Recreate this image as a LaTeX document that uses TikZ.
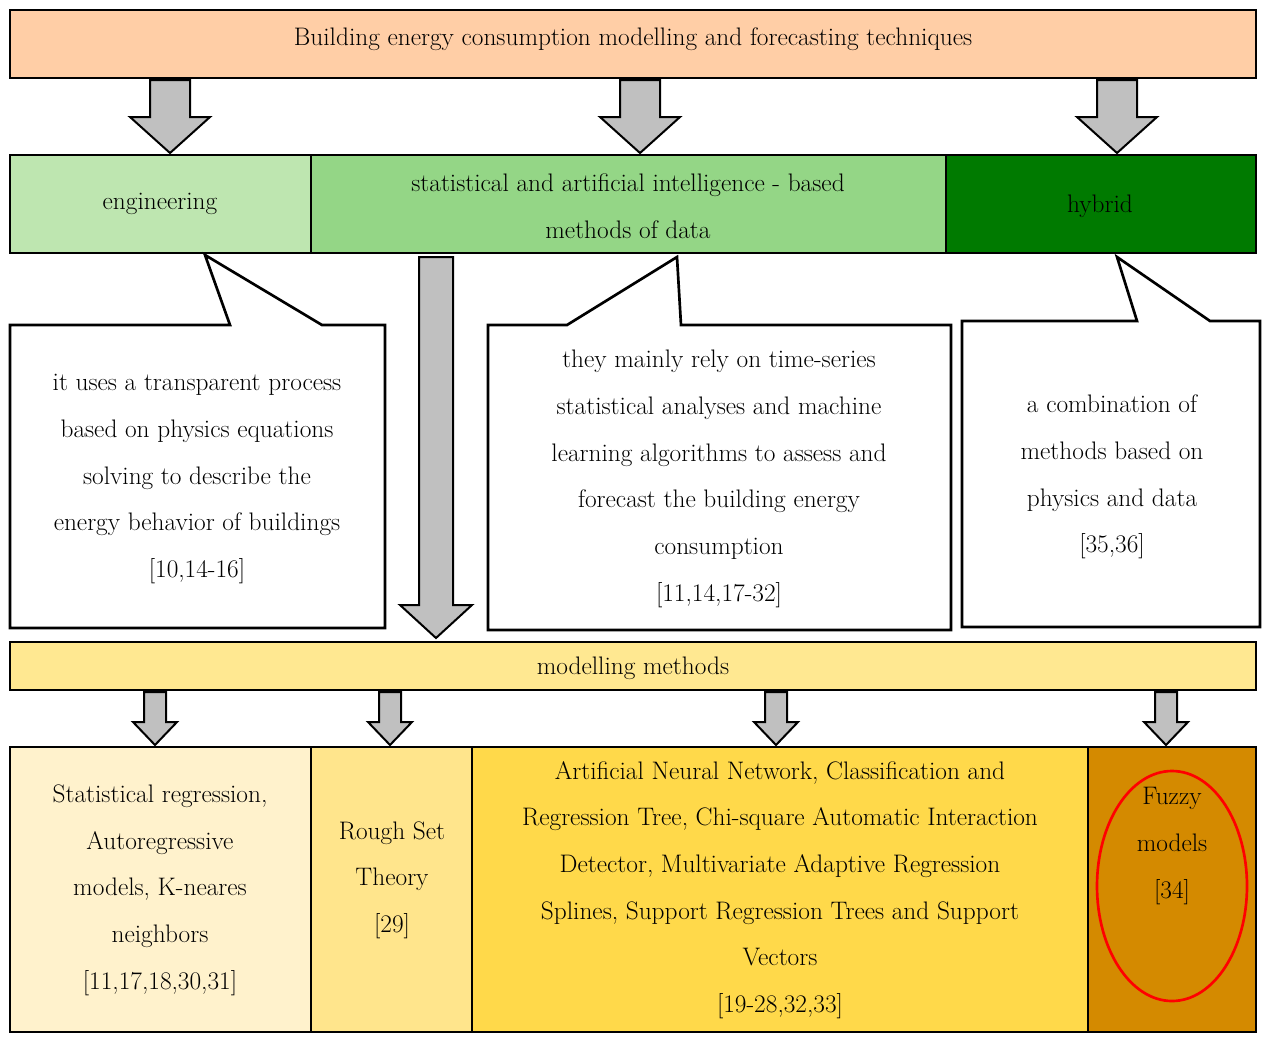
\documentclass[tikz,border=0pt]{standalone}
\usepackage{tikz}
\begin{document}
\tikzset{every picture/.style={line width=1.5pt}}
\tikzset{
  box/.style={draw=black, line width=2pt},
  txt/.style={align=center, font=\fontsize{19}{35}\selectfont, inner sep=0pt},
  garrow/.style={draw=black, fill={rgb,255:red,192;green,192;blue,192}, line width=1.5pt},
}
% block arrow: x, top, bottom, shaft half width, head half width, head start
\newcommand\blockarr[6]{%
  \path[garrow] (#1-#4,#2) -- (#1+#4,#2) -- (#1+#4,#6) -- (#1+#5,#6) -- (#1,#3)
    -- (#1-#5,#6) -- (#1-#4,#6) -- cycle;}
\begin{tikzpicture}[x=0.75pt,y=0.75pt,yscale=-1,xscale=1]
\useasboundingbox (0,0) rectangle (1266,1042);
\definecolor{peach}{RGB}{255,206,166}
\definecolor{lgreen}{RGB}{190,230,176}
\definecolor{mgreen}{RGB}{148,214,134}
\definecolor{dgreen}{RGB}{0,122,0}
\definecolor{lyellow}{RGB}{255,232,145}
\definecolor{cream}{RGB}{255,242,204}
\definecolor{yel2}{RGB}{255,229,140}
\definecolor{yel3}{RGB}{255,217,74}
\definecolor{dorange}{RGB}{212,138,0}

% top bar
\draw[box, fill=peach] (10,10) rectangle (1256,78);
\node[txt] (title) at (633,39) {Building energy consumption modelling and forecasting techniques};

\blockarr{170}{80}{153}{20}{40}{117}
\blockarr{640}{80}{153}{20}{40}{117}
\blockarr{1117}{80}{153}{20}{40}{117}

% second row
\draw[box, fill=lgreen] (10,155) rectangle (311,253);
\draw[box, fill=mgreen] (311,155) rectangle (946,253);
\draw[box, fill=dgreen] (946,155) rectangle (1256,253);
\node[txt] (eng) at (160,204) {engineering};
\node[txt] (stat) at (628,206) {statistical and artificial intelligence - based\\methods of data};
\node[txt] (hyb) at (1100,206) {hybrid};

% callouts
\draw[box, fill=white] (10,325) -- (230,325) -- (205,255) -- (322,325) -- (385,325)
  -- (385,628) -- (10,628) -- cycle;
\node[txt] (engtxt) at (197,479) {it uses a transparent process\\based on physics equations\\solving to describe the\\energy behavior of buildings\\{[10,14-16]}};

\draw[box, fill=white] (488,325) -- (567,325) -- (677,257) -- (681,325) -- (951,325)
  -- (951,630) -- (488,630) -- cycle;
\node[txt] (stattxt) at (719,479) {they mainly rely on time-series\\statistical analyses and machine\\learning algorithms to assess and\\forecast the building energy\\consumption\\{[11,14,17-32]}};

\draw[box, fill=white] (962,321) -- (1137,321) -- (1117,257) -- (1210,321) -- (1260,321)
  -- (1260,627) -- (962,627) -- cycle;
\node[txt] (hybtxt) at (1112,477) {a combination of\\methods based on\\physics and data\\{[35,36]}};

\blockarr{436}{257}{638}{17}{36}{605}

% modelling methods
\draw[box, fill=lyellow] (10,642) rectangle (1256,690);
\node[txt] (mm) at (633,668) {modelling methods};

\blockarr{155}{692}{745}{11}{22}{722}
\blockarr{390}{692}{745}{11}{22}{722}
\blockarr{776}{692}{745}{11}{22}{722}
\blockarr{1166}{692}{745}{11}{22}{722}

% bottom row
\draw[box, fill=cream] (10,747) rectangle (311,1032);
\draw[box, fill=yel2] (311,747) rectangle (472,1032);
\draw[box, fill=yel3] (472,747) rectangle (1088,1032);
\draw[box, fill=dorange] (1088,747) rectangle (1256,1032);
\node[txt] (m1) at (160,890) {Statistical regression,\\Autoregressive\\models, K-neares\\neighbors\\{[11,17,18,30,31]}};
\node[txt] (m2) at (392,880) {Rough Set\\Theory\\{[29]}};
\node[txt] (m3) at (780,890) {Artificial Neural Network, Classification and\\Regression Tree, Chi-square Automatic Interaction\\Detector, Multivariate Adaptive Regression\\Splines, Support Regression Trees and Support\\Vectors\\{[19-28,32,33]}};
\draw[red, line width=2pt] (1172,886) ellipse [x radius=75, y radius=115];
\node[txt] (m4) at (1172,846) {Fuzzy\\models\\{[34]}};
\end{tikzpicture}
\end{document}
